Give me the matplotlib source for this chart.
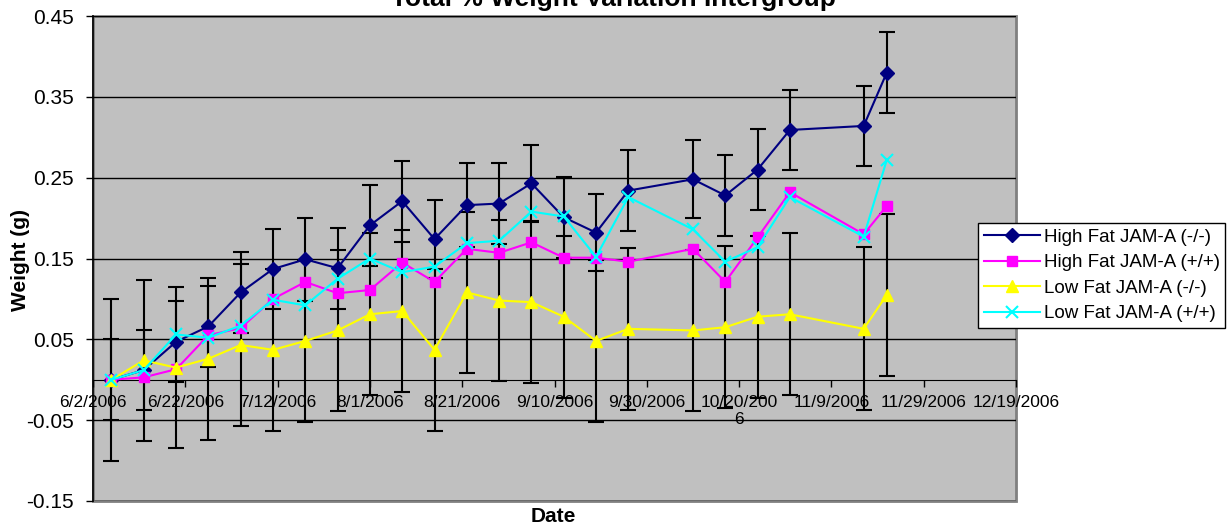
import datetime as dt
import matplotlib
matplotlib.use('Agg')
import matplotlib.pyplot as plt
from matplotlib.patches import Rectangle

# sample dates
dates = ['2006-06-06', '2006-06-13', '2006-06-20', '2006-06-27', '2006-07-04',
         '2006-07-11', '2006-07-18', '2006-07-25', '2006-08-01', '2006-08-08',
         '2006-08-15', '2006-08-22', '2006-08-29', '2006-09-05', '2006-09-12',
         '2006-09-19', '2006-09-26', '2006-10-10', '2006-10-17', '2006-10-24',
         '2006-10-31', '2006-11-16', '2006-11-21']

high_ko = [0.0, 0.012, 0.047, 0.066, 0.108, 0.137, 0.149, 0.138, 0.191, 0.221,
           0.174, 0.216, 0.218, 0.243, 0.201, 0.182, 0.234, 0.248, 0.228, 0.260,
           0.309, 0.314, 0.380]
high_wt = [0.0, 0.003, 0.013, 0.055, 0.064, 0.100, 0.121, 0.107, 0.111, 0.145,
           0.121, 0.162, 0.157, 0.170, 0.151, 0.151, 0.146, 0.162, 0.121, 0.176,
           0.232, 0.180, 0.215]
low_ko = [0.0, 0.024, 0.015, 0.026, 0.043, 0.037, 0.048, 0.061, 0.081, 0.085,
          0.037, 0.108, 0.098, 0.096, 0.078, 0.048, 0.063, 0.061, 0.065, 0.078,
          0.081, 0.063, 0.105]
low_wt = [0.0, 0.012, 0.056, 0.052, 0.067, 0.099, 0.092, 0.125, 0.150, 0.133,
          0.140, 0.169, 0.172, 0.208, 0.202, 0.152, 0.226, 0.186, 0.146, 0.164,
          0.226, 0.177, 0.272]

high_ko_err = [0.05, 0.049, 0.05, 0.05, 0.05, 0.05, 0.051, 0.05, 0.05, 0.05,
               0.048, 0.052, 0.05, 0.048, 0.05, 0.048, 0.05, 0.048, 0.05, 0.05,
               0.05, 0.049, 0.05]
low_ko_err = [0.1, 0.1, 0.1, 0.1, 0.1, 0.1, 0.1, 0.1, 0.1, 0.1,
              0.1, 0.1, 0.1, 0.1, 0.1, 0.1, 0.1, 0.1, 0.1, 0.1,
              0.1, 0.101, 0.1]

labels = ['High Fat JAM-A (-/-)', 'High Fat JAM-A (+/+)',
          'Low Fat JAM-A (-/-)', 'Low Fat JAM-A (+/+)']

xtick_dates = ['2006-06-02', '2006-06-22', '2006-07-12', '2006-08-01', '2006-08-21',
               '2006-09-10', '2006-09-30', '2006-10-20', '2006-11-09', '2006-11-29',
               '2006-12-19']
xtick_labels = ['6/2/2006', '6/22/2006', '7/12/2006', '8/1/2006', '8/21/2006',
                '9/10/2006', '9/30/2006', '10/20/200\n6', '11/9/2006', '11/29/2006',
                '12/19/2006']
yticks = [-0.15, -0.05, 0.05, 0.15, 0.25, 0.35, 0.45]
ytick_labels = ['-0.15', '-0.05', '0.05', '0.15', '0.25', '0.35', '0.45']

plt.rcParams['font.family'] = ['Liberation Sans', 'DejaVu Sans']

x = [dt.datetime.strptime(d, '%Y-%m-%d') for d in dates]
xt = [dt.datetime.strptime(d, '%Y-%m-%d') for d in xtick_dates]

fig = plt.figure(figsize=(12.32, 5.31), dpi=100)
ax = fig.add_axes([93 / 1232, 1 - 501 / 531, (1016 - 93) / 1232, (501 - 16) / 531])
ax.set_facecolor('#c0c0c0')

for y in yticks:
    ax.axhline(y, color='black', lw=1, zorder=1)

ebar = dict(fmt='none', ecolor='black', elinewidth=1.5, capsize=6, capthick=1.5, zorder=2)
ax.errorbar(x, high_ko, yerr=high_ko_err, **ebar)
ax.errorbar(x, low_ko, yerr=low_ko_err, **ebar)

ax.plot(x, high_ko, color='#000080', lw=1.5, marker='D', ms=7, label=labels[0], zorder=3)
ax.plot(x, high_wt, color='#ff00ff', lw=1.5, marker='s', ms=7.5, label=labels[1], zorder=3)
ax.plot(x, low_ko, color='#ffff00', lw=1.5, marker='^', ms=9, label=labels[2], zorder=3)
ax.plot(x, low_wt, color='#00ffff', lw=1.5, marker='x', ms=9, mew=1.5, label=labels[3], zorder=3)

ax.set_xlim(xt[0], xt[-1])
ax.set_ylim(-0.15, 0.45)
ax.set_xticks(xt, labels=xtick_labels)
ax.set_yticks(yticks, labels=ytick_labels)
ax.tick_params(axis='x', direction='out', length=5, width=1, pad=6, labelsize=12.5)
ax.tick_params(axis='y', direction='out', length=5, width=1, pad=9, labelsize=15)

ax.spines['bottom'].set_position(('data', 0))
ax.spines['bottom'].set_color('black')
ax.spines['left'].set_color('black')
ax.spines['left'].set_linewidth(1.2)
ax.spines['top'].set_visible(False)
ax.spines['right'].set_visible(False)
ax.add_patch(Rectangle((0, 0), 1, 1, transform=ax.transAxes, fill=False,
                       edgecolor='#808080', lw=2, clip_on=False, zorder=0.5))

# title is cut off at the top edge, like in the source chart
fig.text(613 / 1232, 1 - 6 / 531, 'Total % Weight Variation Intergroup',
         ha='center', va='baseline', fontsize=19, fontweight='bold')
fig.text(21 / 1232, 1 - 260 / 531, 'Weight (g)', rotation=90, ha='center', va='center',
         fontsize=15, fontweight='bold')
fig.text(553 / 1232, 1 - 516 / 531, 'Date', ha='center', va='center',
         fontsize=15, fontweight='bold')

leg = fig.legend(loc='upper left', bbox_to_anchor=(978 / 1232, 1 - 223 / 531),
                 fontsize=13.5, frameon=True, fancybox=False, framealpha=1,
                 edgecolor='black', borderpad=0.3, labelspacing=0.45,
                 handlelength=3.0, handletextpad=0.2, borderaxespad=0)
leg.get_frame().set_linewidth(1)

fig.savefig('out.png', dpi=100)
